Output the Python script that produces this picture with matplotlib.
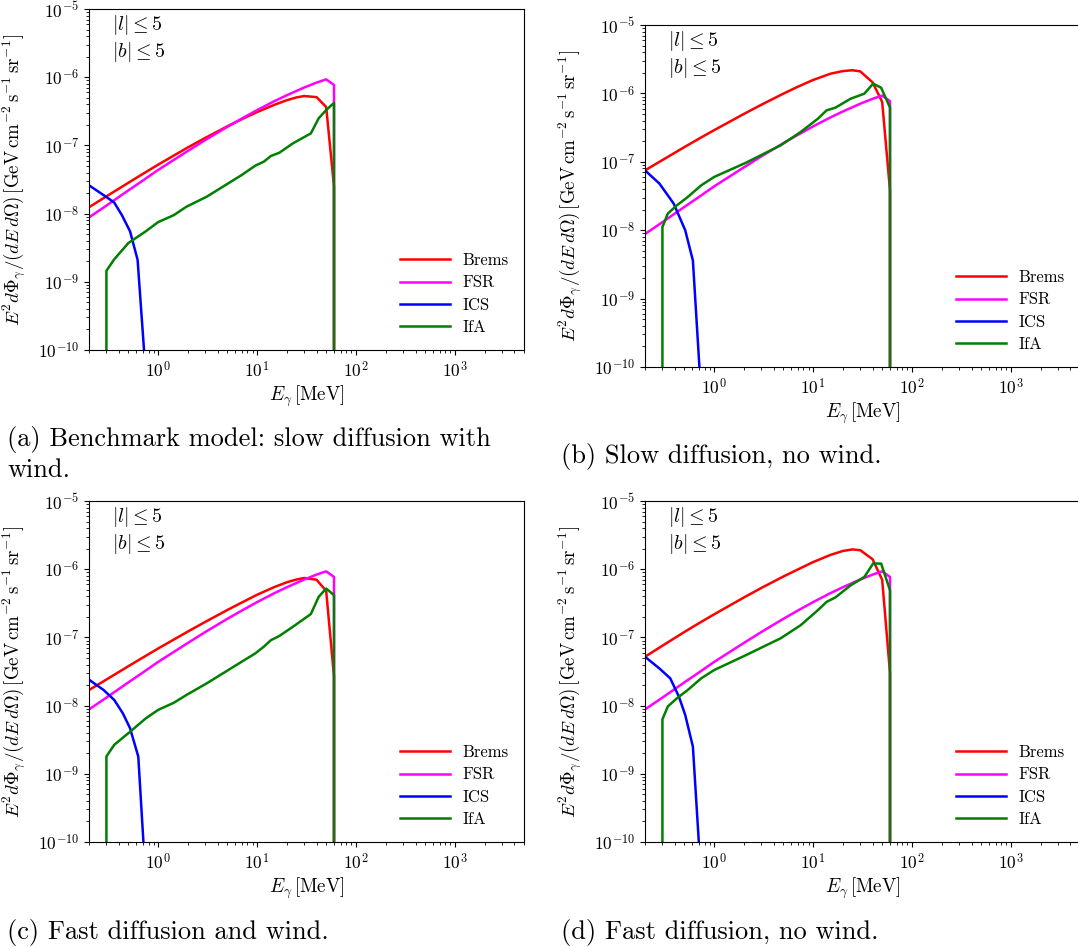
import numpy as np
import matplotlib
matplotlib.use("Agg")
import matplotlib.pyplot as plt

plt.rcParams['font.family'] = 'serif'
plt.rcParams['font.serif'] = ['cmr10']
plt.rcParams['mathtext.fontset'] = 'cm'
plt.rcParams['axes.formatter.use_mathtext'] = True

# photon energies (MeV) and spectra E^2 dPhi/dE dOmega (GeV cm^-2 s^-1 sr^-1)
E_fsr = [0.2, 0.3, 0.5, 0.7, 1, 2, 3, 5, 7, 10, 15, 20, 30, 40, 50, 60, 60]
fsr = [8.8e-9, 1.31e-8, 2.19e-8, 3.05e-8, 4.37e-8, 8.3e-8, 1.2e-7, 1.87e-7, 2.47e-7,
       3.29e-7, 4.46e-7, 5.44e-7, 7.06e-7, 8.34e-7, 9.3e-7, 7.7e-7, 0.0]

E_brems = [0.2, 0.3, 0.5, 0.7, 1, 2, 3, 5, 7, 10, 15, 20, 25, 30, 40, 50, 60, 60]
brems_a = [1.24e-8, 1.79e-8, 2.83e-8, 3.82e-8, 5.22e-8, 9.35e-8, 1.29e-7, 1.9e-7, 2.42e-7,
           3.08e-7, 3.94e-7, 4.6e-7, 5.05e-7, 5.3e-7, 5.1e-7, 3.65e-7, 2.5e-8, 0.0]
brems_b = [7.5e-8, 1.06e-7, 1.64e-7, 2.17e-7, 2.9e-7, 5.01e-7, 6.82e-7, 9.9e-7, 1.25e-6,
           1.57e-6, 1.94e-6, 2.12e-6, 2.18e-6, 2.1e-6, 1.45e-6, 7.5e-7, 3.8e-8, 0.0]
brems_c = [1.69e-8, 2.41e-8, 3.78e-8, 5.06e-8, 6.87e-8, 1.22e-7, 1.69e-7, 2.52e-7, 3.24e-7,
           4.22e-7, 5.48e-7, 6.43e-7, 7.06e-7, 7.43e-7, 7.0e-7, 4.8e-7, 2.66e-8, 0.0]
brems_d = [5.2e-8, 7.55e-8, 1.2e-7, 1.61e-7, 2.18e-7, 3.85e-7, 5.31e-7, 7.8e-7, 9.9e-7,
           1.27e-6, 1.62e-6, 1.85e-6, 1.95e-6, 1.9e-6, 1.4e-6, 7.0e-7, 3.0e-8, 0.0]

E_ics_a = [0.2, 0.3, 0.36, 0.43, 0.52, 0.62, 0.72]
ics_a = [2.6e-8, 1.75e-8, 1.45e-8, 9.5e-9, 5.5e-9, 2.1e-9, 1e-10]
E_ics_b = [0.2, 0.28, 0.39, 0.51, 0.61, 0.71]
ics_b = [7.5e-8, 4.8e-8, 2.45e-8, 1.0e-8, 3.6e-9, 1e-10]
E_ics_c = [0.2, 0.28, 0.36, 0.44, 0.52, 0.63, 0.71]
ics_c = [2.4e-8, 1.7e-8, 1.21e-8, 7.7e-9, 4.66e-9, 1.79e-9, 1e-10]
E_ics_d = [0.2, 0.28, 0.36, 0.44, 0.51, 0.61, 0.70]
ics_d = [5.2e-8, 3.5e-8, 2.51e-8, 1.36e-8, 7.3e-9, 2.5e-9, 1e-10]

E_ifa_ac = [0.3, 0.3, 0.36, 0.5, 0.75, 1.0, 1.44, 1.93, 3.1, 7.0, 9.6, 11.7, 13.8, 16.8,
            23, 35, 42, 50, 60, 60]
ifa_a = [0.0, 1.45e-9, 2.14e-9, 3.7e-9, 5.5e-9, 7.5e-9, 9.5e-9, 1.26e-8, 1.77e-8, 3.68e-8,
         5.05e-8, 5.77e-8, 7.0e-8, 7.8e-8, 1.07e-7, 1.5e-7, 2.5e-7, 3.3e-7, 4.2e-7, 0.0]
ifa_c = [0.0, 1.8e-9, 2.66e-9, 3.94e-9, 6.5e-9, 8.65e-9, 1.1e-8, 1.43e-8, 2.12e-8, 4.4e-8,
         5.83e-8, 7.3e-8, 9.1e-8, 1.05e-7, 1.43e-7, 2.2e-7, 3.94e-7, 5.2e-7, 4.17e-7, 0.0]
E_ifa_bd = [0.3, 0.3, 0.34, 0.42, 0.54, 0.74, 1.0, 2.1, 4.7, 7.5, 11.2, 13.7, 16.8, 24,
            33, 40.5, 48.8, 60, 60]
ifa_b = [0.0, 1.11e-8, 1.75e-8, 2.31e-8, 3.05e-8, 4.53e-8, 6.0e-8, 9.7e-8, 1.74e-7, 2.73e-7,
         4.27e-7, 5.65e-7, 6.18e-7, 8.37e-7, 9.9e-7, 1.39e-6, 1.21e-6, 6.2e-7, 0.0]
ifa_d = [0.0, 6.3e-9, 9.7e-9, 1.28e-8, 1.69e-8, 2.51e-8, 3.32e-8, 5.5e-8, 9.7e-8, 1.51e-7,
         2.51e-7, 3.32e-7, 3.85e-7, 5.8e-7, 7.7e-7, 1.21e-6, 1.21e-6, 4.9e-7, 0.0]

captions = ["(a) Benchmark model: slow diffusion with\nwind.",
            "(b) Slow diffusion, no wind.",
            "(c) Fast diffusion and wind.",
            "(d) Fast diffusion, no wind."]

W, H = 1078, 947
fig = plt.figure(figsize=(W / 100, H / 100), dpi=100)

# axes boxes in pixels: left, top, right, bottom
boxes = [(89, 9, 524, 350), (645, 25, 1080, 367), (89, 501, 524, 842), (645, 501, 1080, 842)]
# caption baselines (last line)
cap_pos = [(7, 477), (561, 463), (7, 939), (561, 939)]

panels = [(brems_a, ics_a, E_ics_a, E_ifa_ac, ifa_a),
          (brems_b, ics_b, E_ics_b, E_ifa_bd, ifa_b),
          (brems_c, ics_c, E_ics_c, E_ifa_ac, ifa_c),
          (brems_d, ics_d, E_ics_d, E_ifa_bd, ifa_d)]

ylab = (r'$E^2 d\boldsymbol{\Phi}_\gamma/(dE\,d\boldsymbol{\Omega})\,'
        r'[\mathrm{GeV\,cm^{-2}\,s^{-1}\,sr^{-1}}]$')

for i, (br, ics, e_ics, e_ifa, ifa) in enumerate(panels):
    l, t, r, b = boxes[i]
    ax = fig.add_axes([l / W, 1 - b / H, (r - l) / W, (b - t) / H])
    ax.plot(E_brems, br, color='red', lw=1.8, label='Brems')
    ax.plot(E_fsr, fsr, color='magenta', lw=1.8, label='FSR')
    ax.plot(e_ics, ics, color='blue', lw=1.8, label='ICS')
    ax.plot(e_ifa, ifa, color='green', lw=1.8, label='IfA')
    ax.set_xscale('log')
    ax.set_yscale('log')
    ax.set_xlim(0.2, 5000)
    ax.set_ylim(1e-10, 1e-5)
    ax.tick_params(labelsize=12.5)
    ax.set_xlabel(r'$E_\gamma\,[\mathrm{MeV}]$', fontsize=13.8)
    ax.set_ylabel(ylab, fontsize=13.6)
    ax.yaxis.set_label_coords(-0.141, 0.5)
    ax.xaxis.set_label_coords(0.5, -0.097)
    ax.text(0.053, 0.953, r'$|l|\leq 5$', transform=ax.transAxes, fontsize=14.4, va='center')
    ax.text(0.053, 0.875, r'$|b|\leq 5$', transform=ax.transAxes, fontsize=14.4, va='center')
    ax.legend(loc='lower right', frameon=False, fontsize=12, handlelength=3.0,
              handletextpad=0.75, labelspacing=0.42)
    cx, cy = cap_pos[i]
    fig.text(cx / W, 1 - cy / H, captions[i], fontsize=19, va='baseline', ha='left',
             linespacing=1.26)

fig.savefig('out.png', dpi=100)
